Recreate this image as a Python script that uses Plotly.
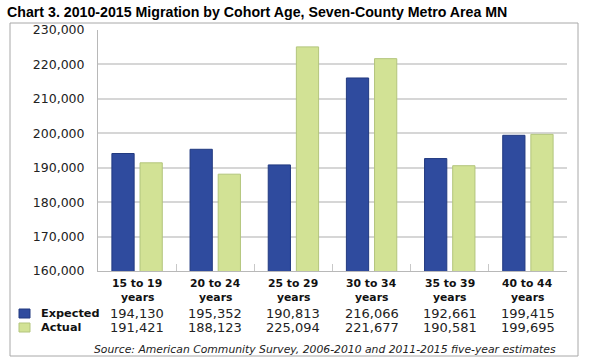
import plotly.graph_objects as go

categories = ["15 to 19<br>years", "20 to 24<br>years", "25 to 29<br>years",
              "30 to 34<br>years", "35 to 39<br>years", "40 to 44<br>years"]
expected = [194130, 195352, 190813, 216066, 192661, 199415]
actual = [191421, 188123, 225094, 221677, 190581, 199695]
series_names = ["Expected", "Actual"]
y_ticks = [160000, 170000, 180000, 190000, 200000, 210000, 220000, 230000]

BLUE = "#2f4b9e"
BLUE_LINE = "#223a80"
GREEN = "#d2e295"
GREEN_LINE = "#b3c57c"
FONT = "DejaVu Sans"

W, H = 595, 363
L, R, T, B = 98, 567, 30, 271

def px(x):
    return (x - L) / (R - L)

def py(y):
    return (B - y) / (B - T)

fig = go.Figure()
fig.add_trace(go.Bar(x=categories, y=expected, name=series_names[0],
                     marker=dict(color=BLUE, line=dict(color=BLUE_LINE, width=1))))
fig.add_trace(go.Bar(x=categories, y=actual, name=series_names[1],
                     marker=dict(color=GREEN, line=dict(color=GREEN_LINE, width=1))))

annotations = []
# category labels (two tight lines)
for c in categories:
    for line_text, line_y in zip(c.split("<br>"), (283.5, 297)):
        annotations.append(dict(x=c, xref="x", y=py(line_y), yref="paper",
                                text=f"<b>{line_text}</b>", showarrow=False,
                                font=dict(family=FONT, size=10.8, color="#111"),
                                xanchor="center", yanchor="middle"))
for row_vals, row_y in ((expected, 313), (actual, 327)):
    for c, v in zip(categories, row_vals):
        annotations.append(dict(x=c, xref="x", y=py(row_y), yref="paper",
                                text=f"{v:,}", showarrow=False,
                                font=dict(family=FONT, size=13, color="#222"),
                                xanchor="center", yanchor="middle"))
for name, row_y in zip(series_names, (313, 327)):
    annotations.append(dict(x=px(39), xref="paper", y=py(row_y), yref="paper",
                            text=f"<b>{name}</b>", showarrow=False,
                            font=dict(family=FONT, size=11.3, color="#111"),
                            xanchor="left", yanchor="middle"))
annotations.append(dict(x=px(558), xref="paper", y=py(349), yref="paper",
                        text="<i>Source: American Community Survey, 2006-2010 and 2011-2015 five-year estimates</i>",
                        showarrow=False, font=dict(family=FONT, size=10.8, color="#222"),
                        xanchor="right", yanchor="middle"))

shapes = [
    dict(type="rect", xref="paper", yref="paper", x0=px(10), x1=px(578), y0=py(356), y1=py(23),
         line=dict(color="#a8a8a8", width=1), fillcolor="rgba(0,0,0,0)", layer="below"),
    dict(type="rect", xref="paper", yref="paper", x0=px(19), x1=px(30), y0=py(318), y1=py(309),
         line=dict(color=BLUE_LINE, width=1), fillcolor=BLUE),
    dict(type="rect", xref="paper", yref="paper", x0=px(19), x1=px(30), y0=py(332), y1=py(323),
         line=dict(color=GREEN_LINE, width=1), fillcolor=GREEN),
]

fig.update_layout(
    width=W, height=H,
    margin=dict(l=L, r=W - R, t=T, b=H - B, pad=0),
    paper_bgcolor="white", plot_bgcolor="white",
    barmode="group", bargap=0.28, bargroupgap=0.21,
    showlegend=False,
    title=dict(text="<b>Chart 3. 2010-2015 Migration by Cohort Age, Seven-County Metro Area MN</b>",
               x=7 / W, xanchor="left", xref="container",
               y=1 - 12 / H, yanchor="middle", yref="container",
               font=dict(family="Liberation Sans, Arial", size=14.2, color="#000")),
    xaxis=dict(showgrid=False, showline=True, linecolor="#b8b8b8", linewidth=1,
               ticks="inside", tickson="boundaries", ticklen=7, tickcolor="#c8c8c8",
               showticklabels=False),
    yaxis=dict(range=[160000, 230000], tickvals=y_ticks, tickformat=",",
               showgrid=True, gridcolor="#d6d6d6", gridwidth=1.5,
               showline=True, linecolor="#b8b8b8", linewidth=1,
               ticks="", ticklabelstandoff=10,
               tickfont=dict(family=FONT, size=12.5, color="#222"), zeroline=False),
    annotations=annotations, shapes=shapes,
)

fig.write_html("out.html", config={"displayModeBar": False},
               post_script="document.body.style.margin='0';document.body.style.padding='0';")
